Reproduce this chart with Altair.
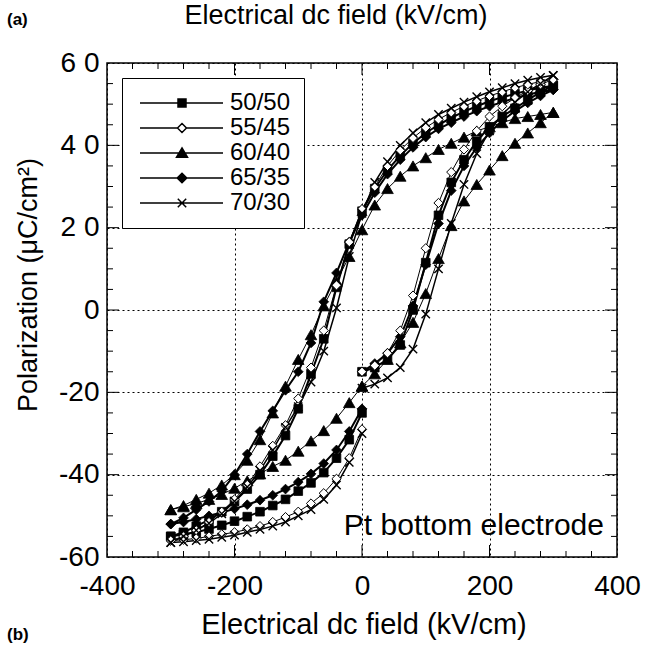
import altair as alt
import pandas as pd

SERIES = ["50/50", "55/45", "60/40", "65/35", "70/30"]

# Electric field sampling of the three measured branches (kV/cm)
E_RIGHT = [0, 20, 40, 60, 80, 100, 120, 140, 160, 180, 200, 220, 240, 260, 280, 300]
E_DOWN = [300, 280, 260, 240, 220, 200, 180, 160, 140, 120, 100, 80, 60, 40, 20, 0,
          -20, -40, -60, -80, -100, -120, -140, -160, -180, -200, -220, -240, -260, -280, -300]
E_LEFT = [-300, -280, -260, -240, -220, -200, -180, -160, -140, -120, -100, -80, -60, -40, -20, 0]

# Polarization (uC/cm2)
P_50_50_RIGHT = [-15, -14, -12, -8.5, 0, 11.5, 23, 31, 36.5, 41, 44.5, 47, 49, 51, 53, 54.5]
P_50_50_DOWN = [54.5, 54, 53.3, 52.5, 51.7, 50.7, 49.5, 48.2, 46.7, 45, 43, 40.5, 37.5, 34, 29.5, 24,
                16, 5.5, -7, -15.5, -24, -30.5, -35.5, -40, -43.5, -46.5, -49, -51, -52.5, -54, -55]
P_50_50_LEFT = [-55, -54.5, -54, -53.2, -52.3, -51.3, -50.2, -49, -47.5, -46, -44, -42, -39.5, -36, -31.5, -25]

P_55_45_RIGHT = [-15, -13.5, -10.5, -5, 3.5, 15, 26, 33.5, 39, 43.5, 47, 49.5, 51.5, 53.3, 54.8, 56]
P_55_45_DOWN = [56, 55.5, 54.8, 54, 53, 52, 50.8, 49.5, 48, 46.3, 44.3, 41.8, 38.8, 35, 30, 24.5,
                16.5, 6, -5, -14, -21.5, -28, -33, -38, -42.5, -46, -49, -51.5, -53.5, -55, -56]
P_55_45_LEFT = [-56, -55.8, -55.5, -55, -54.5, -54, -53.3, -52.5, -51.5, -50.3, -49, -47, -44.5, -41, -36, -29]

P_60_40_RIGHT = [-18.5, -15.5, -12, -8, -3, 4, 12.5, 20.5, 26.5, 30.5, 34, 37.5, 40.5, 43, 45.5, 48]
P_60_40_DOWN = [48, 47.5, 47, 46.5, 45.5, 44.5, 43.5, 42, 40.5, 39, 37, 35, 32.5, 29.5, 25.5, 19.5,
                13, 7, 1, -6, -12, -18.5, -25, -31.5, -36.5, -40, -42.5, -44.5, -46, -47.5, -48.5]
P_60_40_LEFT = [-48.5, -47.8, -47, -46, -44.8, -43.3, -41.5, -39.8, -38, -36.5, -34.3, -31.8, -29.3, -26.3, -22.5, -18.5]

P_65_35_RIGHT = [-15, -13, -10.5, -6.5, 1, 11, 21, 29, 35, 39.5, 43, 46, 48.3, 50.3, 52, 53.5]
P_65_35_DOWN = [53.5, 53, 52.3, 51.5, 50.5, 49.5, 48.3, 47, 45.5, 44, 42, 39.5, 36.5, 33, 28.5, 23,
                16.5, 9, 2, -8, -15, -19.5, -24.5, -29.5, -35, -40, -44, -46.5, -48.5, -50.5, -52]
P_65_35_LEFT = [-52, -51.5, -50.8, -50, -49.2, -48.3, -47.3, -46.2, -45, -43.5, -41.8, -39.8, -37.3, -34, -29.5, -24]

P_70_30_RIGHT = [-19, -18, -16.5, -14, -9.5, -1, 10, 21, 30.5, 38, 43.5, 47.5, 50.5, 53, 55, 57]
P_70_30_DOWN = [57, 56.5, 55.8, 55, 54, 53, 51.8, 50.5, 49, 47.5, 45.5, 43, 40, 36, 31, 23.5,
                13, 0.5, -10, -17.5, -23.5, -28.5, -34, -39, -43, -46.5, -49.5, -51.8, -53.5, -55, -56.5]
P_70_30_LEFT = [-56.5, -56.3, -56, -55.7, -55.2, -54.7, -54, -53.3, -52.5, -51.5, -50, -48.5, -46, -42.5, -37, -30]

# tick positions
X_LABELS = [-400, -200, 0, 200, 400]
Y_LABELS = [-60, -40, -20, 0, 20, 40, 60]
X_MINOR = [-360, -320, -280, -240, -160, -120, -80, -40, 40, 80, 120, 160, 240, 280, 320, 360]
X_MAJOR = [-200, 0, 200]
Y_MINOR = [-55, -50, -45, -35, -30, -25, -15, -10, -5, 5, 10, 15, 25, 30, 35, 45, 50, 55]
Y_MAJOR = [-40, -20, 0, 20, 40]

BRANCHES = {
    "50/50": (P_50_50_RIGHT, P_50_50_DOWN, P_50_50_LEFT),
    "55/45": (P_55_45_RIGHT, P_55_45_DOWN, P_55_45_LEFT),
    "60/40": (P_60_40_RIGHT, P_60_40_DOWN, P_60_40_LEFT),
    "65/35": (P_65_35_RIGHT, P_65_35_DOWN, P_65_35_LEFT),
    "70/30": (P_70_30_RIGHT, P_70_30_DOWN, P_70_30_LEFT),
}

rows = []
for name in SERIES:
    r, d, l = BRANCHES[name]
    i = 0
    for es, ps in ((E_RIGHT, r), (E_DOWN, d), (E_LEFT, l)):
        for e, p in zip(es, ps, strict=True):
            rows.append({"series": name, "E": e, "P": p, "idx": i})
            i += 1
df = pd.DataFrame(rows)

FONT = "Liberation Sans"
W, H = 510, 494

# styles
LINE_W = {"50/50": 2.0, "55/45": 1.0, "60/40": 1.0, "65/35": 2.0, "70/30": 1.5}
CROSS = "M-1,-1L1,1M-1,1L1,-1"
MARK = {
    "50/50": dict(shape="square", size=75, filled=True, fill="black", stroke="black", strokeWidth=0.8),
    "55/45": dict(shape="diamond", size=85, filled=True, fill="white", stroke="black", strokeWidth=1.0),
    "60/40": dict(shape="triangle-up", size=135, filled=True, fill="black", stroke="black", strokeWidth=0.8),
    "65/35": dict(shape="diamond", size=95, filled=True, fill="black", stroke="black", strokeWidth=0.8),
    "70/30": dict(shape=CROSS, size=70, filled=False, stroke="black", strokeWidth=1.4),
}
LEGEND_PATHS = [
    "M-0.7,0H7.6M3.1,-0.4H3.9V0.4H3.1Z",
    "M-0.7,0H3.05M3.95,0H7.6M3.5,-0.45L3.95,0L3.5,0.45L3.05,0Z",
    "M-0.7,0H7.6M3.5,-0.5L4.05,0.42L2.95,0.42Z",
    "M-0.7,0H7.6M3.5,-0.48L3.98,0L3.5,0.48L3.02,0Z",
    "M-0.7,0H7.6M3.08,-0.42L3.92,0.42M3.08,0.42L3.92,-0.42",
]
LEGEND_FILL = ["black", "white", "black", "black", "black"]
LEGEND_STROKE = ["black", "black", "black", "black", "black"]

xs = alt.Scale(domain=[-400, 400], nice=False, zero=False)
ys = alt.Scale(domain=[-60, 60], nice=False, zero=False)

HYPHEN = "replace(datum.label, '\u2212', '-')"
x_axis = alt.Axis(values=X_LABELS, grid=True, gridDash=[2, 3], gridColor="black", gridOpacity=1,
                  gridWidth=1, ticks=False, domain=False, labelFont=FONT, labelFontSize=28,
                  labelColor="black", labelPadding=15, labelFlush=False, labelOverlap=False,
                  title=None, labelExpr=HYPHEN)
y_axis = alt.Axis(values=Y_LABELS, grid=True, gridDash=[2, 3], gridColor="black", gridOpacity=1,
                  gridWidth=1, ticks=False, domain=False, labelFont=FONT, labelFontSize=28,
                  labelColor="black", labelPadding=8, labelOverlap=False, title=None,
                  labelExpr="datum.value > 0 ? slice(datum.label, 0, 1) + ' ' + slice(datum.label, 1) : "
                            + HYPHEN)

base = alt.Chart(df)
layers = []

# tick marks drawn inward on all four sides
tick_x_minor = alt.Chart(pd.DataFrame({"v": X_MINOR}))
tick_x_major = alt.Chart(pd.DataFrame({"v": X_MAJOR}))
tick_y_minor = alt.Chart(pd.DataFrame({"v": Y_MINOR}))
tick_y_major = alt.Chart(pd.DataFrame({"v": Y_MAJOR}))
for src, ln in ((tick_x_minor, 6), (tick_x_major, 12)):
    layers.append(src.mark_rule(color="black", strokeWidth=1).encode(
        x=alt.X("v:Q", scale=xs, axis=x_axis), y=alt.value(0), y2=alt.value(ln)))
    layers.append(src.mark_rule(color="black", strokeWidth=1).encode(
        x=alt.X("v:Q", scale=xs, axis=x_axis), y=alt.value(H), y2=alt.value(H - ln)))
for src, ln in ((tick_y_minor, 6), (tick_y_major, 12)):
    layers.append(src.mark_rule(color="black", strokeWidth=1).encode(
        y=alt.Y("v:Q", scale=ys, axis=y_axis), x=alt.value(0), x2=alt.value(ln)))
    layers.append(src.mark_rule(color="black", strokeWidth=1).encode(
        y=alt.Y("v:Q", scale=ys, axis=y_axis), x=alt.value(W), x2=alt.value(W - ln)))

for s in SERIES:
    layers.append(base.transform_filter(alt.datum.series == s).mark_line(
        color="black", strokeWidth=LINE_W[s]).encode(
        x=alt.X("E:Q", scale=xs, axis=x_axis), y=alt.Y("P:Q", scale=ys, axis=y_axis),
        order=alt.Order("idx:Q")))
for s in ["60/40", "65/35", "50/50", "55/45", "70/30"]:
    layers.append(base.transform_filter(alt.datum.series == s).mark_point(
        opacity=1, **MARK[s]).encode(
        x=alt.X("E:Q", scale=xs, axis=x_axis), y=alt.Y("P:Q", scale=ys, axis=y_axis)))

leg = alt.Legend(title=None, orient="none", legendX=15, legendY=15, padding=13,
                 symbolSize=400, symbolStrokeWidth=1.5, symbolStrokeColor="black",
                 labelOffset=71, labelFont=FONT, labelFontSize=24, labelColor="black",
                 strokeColor="black", fillColor="white", rowPadding=1, labelLimit=200)
layers.append(base.transform_filter("datum.E > 1000").mark_point(
    filled=True, stroke="black", strokeWidth=1.5, opacity=1).encode(
    shape=alt.Shape("series:N", scale=alt.Scale(domain=SERIES, range=LEGEND_PATHS), legend=leg),
    fill=alt.Fill("series:N", scale=alt.Scale(domain=SERIES, range=LEGEND_FILL), legend=leg),
    stroke=alt.Stroke("series:N", scale=alt.Scale(domain=SERIES, range=LEGEND_STROKE), legend=leg)))

one = pd.DataFrame({"k": [0]})
def label(text, x, y, size, weight="normal", align="center", angle=0):
    return alt.Chart(one).mark_text(text=text, font=FONT, fontSize=size, fontWeight=weight,
                                    align=align, baseline="alphabetic", angle=angle,
                                    color="black").encode(x=alt.value(x), y=alt.value(y))

layers.append(label("Electrical dc field (kV/cm)", 229, -39, 27))
layers.append(label("(a)", -100, -38, 17, weight="bold", align="left"))
layers.append(label("Electrical dc field (kV/cm)", 257, 571, 29))
layers.append(label("(b)", -100, 577, 17, weight="bold", align="left"))
layers.append(label("Polarization (μC/cm²)", -70, 222, 27, angle=270))
layers.append(label("Pt bottom electrode", 497, 472, 30, align="right"))

chart = alt.layer(*layers).properties(
    width=W, height=H,
    padding={"left": 107, "top": 63, "right": 30, "bottom": 105},
    autosize=alt.AutoSizeParams(type="none"),
    background="white",
).configure_view(stroke="black", strokeWidth=1.5)

chart.save("out.html", embed_options={"renderer": "svg", "actions": False})
